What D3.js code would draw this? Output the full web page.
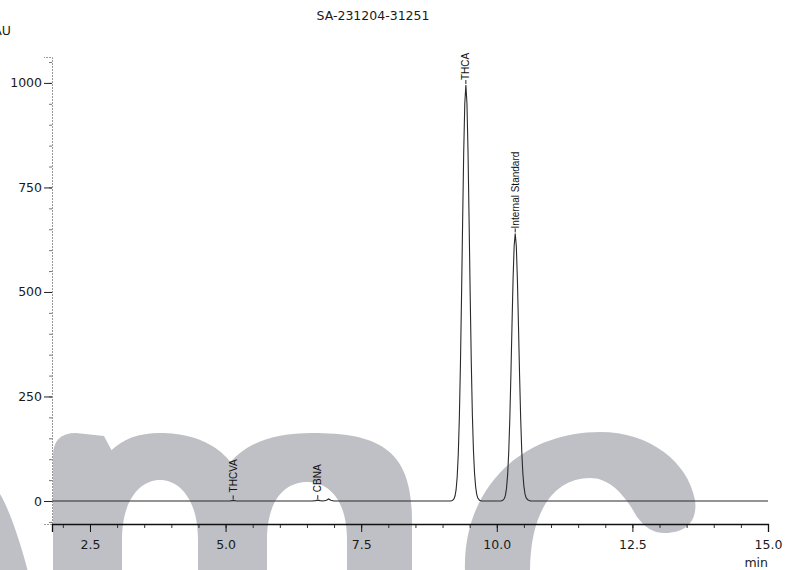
<!DOCTYPE html>
<html>
<head>
<meta charset="utf-8">
<script src="https://cdn.jsdelivr.net/npm/d3@7"></script>
<style>
  body { margin: 0; background: #fff; }
  svg { display: block; }
</style>
</head>
<body>
<div id="wrapper"></div>
<script>
// retention time (min) and absorbance (mAU)
const times = [
  1.80, 3.00, 4.00, 5.00, 5.08, 5.12, 5.15, 5.20, 6.00, 6.60, 6.66, 6.70, 6.74, 6.80,
  6.86, 6.90, 6.94, 7.00, 8.00, 9.00, 9.15,
  9.18, 9.21, 9.23, 9.25, 9.27, 9.29, 9.31, 9.33, 9.35, 9.37, 9.39, 9.41, 9.43,
  9.45, 9.47, 9.49, 9.51, 9.53, 9.55, 9.57, 9.59, 9.61, 9.63, 9.65, 9.68, 9.72,
  10.08, 10.11, 10.14, 10.16, 10.18, 10.20, 10.22, 10.24, 10.26, 10.28, 10.30, 10.32, 10.34,
  10.36, 10.38, 10.40, 10.42, 10.44, 10.46, 10.48, 10.50, 10.52, 10.54, 10.57, 10.62,
  11.00, 12.00, 13.00, 14.00, 15.00
]
const mAU = [
  0, 0, 0, 0, 0, 1, 1.5, 0, 0, 0, 1, 2, 1, 0,
  2, 5, 2, 0, 0, 0, 0,
  1, 5, 12, 27, 58, 112, 200, 327, 488, 666, 833, 951, 995,
  951, 833, 666, 490, 330, 205, 120, 66, 34, 16, 7, 2, 0,
  0, 1.5, 6, 14, 31, 63, 116, 196, 300, 418, 530, 610, 640,
  610, 530, 418, 302, 199, 120, 67, 35, 17, 8, 3, 0,
  0, 0, 0, 0, 0
]

// peak annotations
const peakNames = ["THCVA", "CBNA", "THCA", "Internal Standard"]
const peakTimes = [5.14, 6.70, 9.43, 10.34]
const peakHeights = [1.5, 2, 995, 640]

const xTicks = [2.5, 5.0, 7.5, 10.0, 12.5, 15.0]
const yTicks = [0, 250, 500, 750, 1000]
const chartTitle = "SA-231204-31251"
const yUnit = "mAU"
const xUnit = "min"

function drawChromatogram() {

  let dimensions = {
    width: 786,
    height: 570,
    margin: {
      top: 57,
      right: 18,
      bottom: 46,
      left: 52,
    },
  }
  dimensions.boundedWidth = dimensions.width - dimensions.margin.left - dimensions.margin.right
  dimensions.boundedHeight = dimensions.height - dimensions.margin.top - dimensions.margin.bottom

  const wrapper = d3.select("#wrapper")
    .append("svg")
      .attr("width", dimensions.width)
      .attr("height", dimensions.height)
      .style("font-family", "'DejaVu Sans', Verdana, sans-serif")

  // grey watermark letters behind the plot
  const mark = wrapper.append("g")
    .attr("fill", "#bfc0c5")
    .attr("fill-rule", "evenodd")
  mark.append("path").attr("d", "M0,494 C8,507 19,537 28,572 L0,572 Z")
  mark.append("path").attr("d", "M53,572 V456 Q53,433 76,433 L104,436 L122,470 V572 Z")
  mark.append("path").attr("d",
    "M90,572 V520 C90,460 115,433 160,433 C205,433 248,455 248,520 V572 Z " +
    "M122,572 V540 C122,500 140,480 160,480 C180,480 198,500 198,540 V572 Z")
  mark.append("path").attr("d",
    "M212,572 V520 C212,460 250,433 312,433 C380,433 412,450 412,520 V572 Z " +
    "M267,572 V540 C267,500 285,482 307,482 C329,482 347,500 347,540 V572 Z")
  mark.append("path").attr("d",
    "M465,572 C462,490 520,432 600,432 C650,432 688,462 695,500 C698,522 685,533 665,533 " +
    "C652,533 645,527 637,517 C625,495 610,478 590,478 C555,478 530,510 530,572 Z")

  const bounds = wrapper.append("g")
    .attr("transform", `translate(${dimensions.margin.left}, ${dimensions.margin.top})`)

  const xScale = d3.scaleLinear()
    .domain([1.8, 15.0])
    .range([0, dimensions.boundedWidth])

  const yScale = d3.scaleLinear()
    .domain([-55, 1062])
    .range([dimensions.boundedHeight, 0])

  // minor ticks first, majors on top
  const yMinor = bounds.append("g")
    .call(d3.axisLeft(yScale).tickValues(d3.range(-50, 1051, 50)).tickSize(3).tickFormat(""))
  yMinor.select(".domain").remove()
  yMinor.selectAll("line").attr("stroke", "#777")

  const yAxis = bounds.append("g")
    .call(d3.axisLeft(yScale).tickValues(yTicks).tickSize(8).tickPadding(2).tickFormat(d3.format("d")))
  yAxis.select(".domain")
    .attr("stroke", "#999")
    .attr("stroke-dasharray", "2,1")
  yAxis.selectAll("line").attr("stroke", "#222")
  yAxis.selectAll("text")
    .attr("font-family", "'DejaVu Sans', Verdana, sans-serif")
    .attr("font-size", 12.5)
    .attr("fill", "#1a1a1a")

  const xMinor = bounds.append("g")
    .attr("transform", `translate(0, ${dimensions.boundedHeight})`)
    .call(d3.axisBottom(xScale).tickValues(d3.range(2.0, 15.01, 0.5)).tickSize(4).tickFormat(""))
  xMinor.select(".domain").remove()
  xMinor.selectAll("line").attr("stroke", "#333")

  const xAxis = bounds.append("g")
    .attr("transform", `translate(0, ${dimensions.boundedHeight})`)
    .call(d3.axisBottom(xScale).tickValues(xTicks).tickSize(8).tickPadding(8).tickFormat(d3.format(".1f")))
  xAxis.select(".domain")
    .attr("stroke", "#111")
    .attr("stroke-width", 1.3)
  xAxis.selectAll("line").attr("stroke", "#111")
  xAxis.selectAll("text")
    .attr("font-family", "'DejaVu Sans', Verdana, sans-serif")
    .attr("font-size", 12.5)
    .attr("fill", "#1a1a1a")

  // the trace
  const data = times.map((t, i) => ({ t: t, v: mAU[i] }))
  const lineGenerator = d3.line()
    .x(d => xScale(d.t))
    .y(d => yScale(d.v))

  bounds.append("path")
    .attr("d", lineGenerator(data))
    .attr("fill", "none")
    .attr("stroke", "#2a2a2a")
    .attr("stroke-width", 1.1)

  // peak labels, rotated, with a short leader
  const peaks = peakNames.map((n, i) => ({ name: n, t: peakTimes[i], h: peakHeights[i] }))
  const labels = bounds.selectAll(".peak")
    .data(peaks)
    .join("g")
      .attr("class", "peak")
      .attr("transform", d => `translate(${xScale(d.t)}, ${yScale(d.h)})`)
  labels.append("line")
    .attr("y1", -1)
    .attr("y2", -5)
    .attr("stroke", "#222")
  labels.append("text")
    .attr("transform", d => `translate(3.5, ${d.h > 100 ? -5 : -8}) rotate(-90)`)
    .attr("font-family", "'Liberation Sans', Arial, sans-serif")
    .attr("font-size", 10)
    .attr("fill", "#111")
    .text(d => d.name)

  // title and units
  wrapper.append("text")
    .attr("x", 373)
    .attr("y", 20)
    .attr("text-anchor", "middle")
    .attr("font-size", 12.5)
    .attr("fill", "#1a1a1a")
    .text(chartTitle)

  wrapper.append("text")
    .attr("x", 11)
    .attr("y", 35)
    .attr("text-anchor", "end")
    .attr("font-size", 12.5)
    .attr("fill", "#1a1a1a")
    .text(yUnit)

  wrapper.append("text")
    .attr("x", dimensions.margin.left + dimensions.boundedWidth)
    .attr("y", 567)
    .attr("text-anchor", "end")
    .attr("font-size", 12.5)
    .attr("fill", "#1a1a1a")
    .text(xUnit)
}

drawChromatogram()
</script>
</body>
</html>
